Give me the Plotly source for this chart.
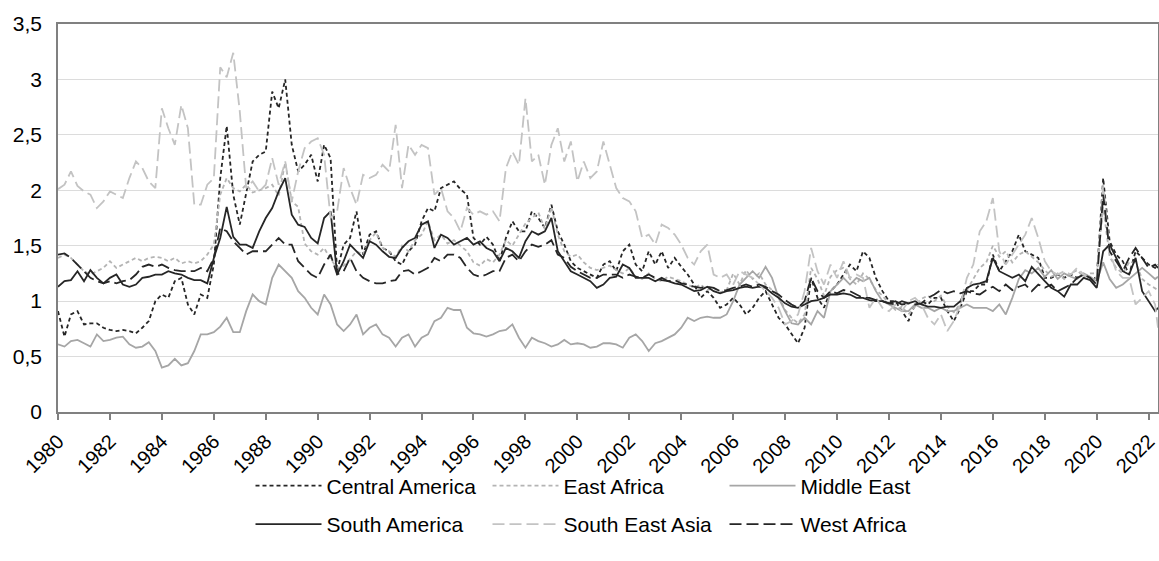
import pandas as pd
import plotly.graph_objects as go

# Quarterly observation dates, Jan 1980 .. Apr 2022, plus May 2022
dates = list(pd.date_range("1980-01-01", periods=170, freq="QS").strftime("%Y-%m-%d")) + ["2022-05-12"]

central_america = [
    0.91, 0.68, 0.88, 0.91,  # 1980
    0.79, 0.80, 0.80, 0.76,  # 1981
    0.74, 0.73, 0.74, 0.73,  # 1982
    0.71, 0.76, 0.82, 1.00,  # 1983
    1.06, 1.03, 1.18, 1.21,  # 1984
    0.97, 0.88, 1.06, 1.03,  # 1985
    1.33, 2.11, 2.58, 1.96,  # 1986
    1.69, 1.99, 2.26, 2.32,  # 1987
    2.35, 2.89, 2.74, 3.00,  # 1988
    2.41, 2.17, 2.23, 2.32,  # 1989
    2.08, 2.41, 2.29, 1.27,  # 1990
    1.51, 1.57, 1.81, 1.42,  # 1991
    1.60, 1.63, 1.48, 1.45,  # 1992
    1.36, 1.33, 1.45, 1.51,  # 1993
    1.72, 1.84, 1.81, 2.02,  # 1994
    2.05, 2.08, 2.01, 1.96,  # 1995
    1.57, 1.51, 1.58, 1.51,  # 1996
    1.36, 1.57, 1.72, 1.63,  # 1997
    1.63, 1.81, 1.75, 1.66,  # 1998
    1.87, 1.63, 1.51, 1.36,  # 1999
    1.30, 1.27, 1.24, 1.21,  # 2000
    1.33, 1.36, 1.27, 1.45,  # 2001
    1.51, 1.33, 1.27, 1.45,  # 2002
    1.33, 1.45, 1.30, 1.39,  # 2003
    1.31, 1.24, 1.15, 1.03,  # 2004
    1.09, 1.03, 0.94, 0.97,  # 2005
    1.03, 0.97, 0.88, 0.94,  # 2006
    1.03, 1.09, 0.97, 0.85,  # 2007
    0.79, 0.70, 0.62, 0.76,  # 2008
    1.21, 1.03, 0.94, 1.09,  # 2009
    1.15, 1.24, 1.33, 1.27,  # 2010
    1.45, 1.39, 1.21, 1.09,  # 2011
    1.00, 1.00, 0.91, 0.82,  # 2012
    0.97, 1.00, 0.97, 1.03,  # 2013
    1.03, 0.91, 0.82, 0.94,  # 2014
    1.09, 1.09, 1.15, 1.15,  # 2015
    1.42, 1.27, 1.36, 1.45,  # 2016
    1.60, 1.45, 1.42, 1.39,  # 2017
    1.21, 1.21, 1.24, 1.21,  # 2018
    1.24, 1.21, 1.24, 1.21,  # 2019
    1.21, 2.11, 1.54, 1.42,  # 2020
    1.36, 1.24, 1.45, 1.39,  # 2021
    1.33, 1.30, 1.33,        # 2022
]

east_africa = [
    1.39, 1.42, 1.39, 1.33,  # 1980
    1.27, 1.24, 1.27, 1.30,  # 1981
    1.36, 1.30, 1.33, 1.36,  # 1982
    1.39, 1.36, 1.39, 1.40,  # 1983
    1.39, 1.36, 1.39, 1.34,  # 1984
    1.36, 1.34, 1.36, 1.42,  # 1985
    1.51, 1.96, 2.11, 2.02,  # 1986
    1.99, 2.05, 1.98, 2.00,  # 1987
    2.02, 2.05, 1.95, 2.25,  # 1988
    1.90, 1.85, 1.52, 1.45,  # 1989
    1.42, 1.48, 1.38, 1.30,  # 1990
    1.32, 1.38, 1.45, 1.42,  # 1991
    1.55, 1.62, 1.48, 1.45,  # 1992
    1.40, 1.50, 1.45, 1.55,  # 1993
    1.60, 1.72, 1.55, 1.60,  # 1994
    1.52, 1.55, 1.50, 1.45,  # 1995
    1.35, 1.32, 1.38, 1.35,  # 1996
    1.42, 1.55, 1.50, 1.60,  # 1997
    1.70, 1.75, 1.80, 1.65,  # 1998
    1.85, 1.60, 1.45, 1.40,  # 1999
    1.42, 1.35, 1.30, 1.28,  # 2000
    1.30, 1.32, 1.28, 1.25,  # 2001
    1.30, 1.22, 1.20, 1.25,  # 2002
    1.20, 1.18, 1.22, 1.20,  # 2003
    1.18, 1.15, 1.12, 1.15,  # 2004
    1.10, 1.12, 1.08, 1.10,  # 2005
    1.25, 1.15, 1.28, 1.20,  # 2006
    1.25, 1.15, 1.10, 1.05,  # 2007
    0.92, 0.85, 0.80, 0.88,  # 2008
    1.30, 1.20, 1.05, 1.22,  # 2009
    1.28, 1.30, 1.20, 1.15,  # 2010
    1.25, 1.20, 1.10, 1.05,  # 2011
    0.98, 0.92, 0.95, 0.88,  # 2012
    0.95, 1.02, 1.05, 1.00,  # 2013
    1.05, 0.95, 0.90, 0.98,  # 2014
    1.10, 1.20, 1.30, 1.35,  # 2015
    1.50, 1.40, 1.45, 1.35,  # 2016
    1.42, 1.45, 1.40, 1.35,  # 2017
    1.28, 1.22, 1.25, 1.20,  # 2018
    1.25, 1.28, 1.22, 1.25,  # 2019
    1.25, 1.85, 1.40, 1.30,  # 2020
    1.25, 1.35, 1.35, 1.20,  # 2021
    1.15, 1.12, 1.10,        # 2022
]

middle_east = [
    0.61, 0.59, 0.64, 0.65,  # 1980
    0.62, 0.59, 0.70, 0.64,  # 1981
    0.65, 0.67, 0.68, 0.61,  # 1982
    0.58, 0.59, 0.63, 0.55,  # 1983
    0.40, 0.42, 0.48, 0.42,  # 1984
    0.44, 0.55, 0.70, 0.70,  # 1985
    0.72, 0.77, 0.85, 0.72,  # 1986
    0.72, 0.91, 1.06, 1.00,  # 1987
    0.97, 1.21, 1.33, 1.27,  # 1988
    1.21, 1.09, 1.03, 0.94,  # 1989
    0.88, 1.06, 0.97, 0.79,  # 1990
    0.73, 0.79, 0.88, 0.70,  # 1991
    0.76, 0.79, 0.70, 0.67,  # 1992
    0.59, 0.67, 0.70, 0.59,  # 1993
    0.67, 0.70, 0.82, 0.85,  # 1994
    0.94, 0.92, 0.92, 0.76,  # 1995
    0.71, 0.70, 0.68, 0.70,  # 1996
    0.73, 0.74, 0.79, 0.67,  # 1997
    0.58, 0.67, 0.64, 0.62,  # 1998
    0.59, 0.61, 0.65, 0.61,  # 1999
    0.62, 0.61, 0.58, 0.59,  # 2000
    0.62, 0.62, 0.61, 0.58,  # 2001
    0.67, 0.70, 0.64, 0.55,  # 2002
    0.62, 0.64, 0.67, 0.70,  # 2003
    0.76, 0.85, 0.82, 0.85,  # 2004
    0.86, 0.85, 0.85, 0.88,  # 2005
    1.00, 1.15, 1.21, 1.27,  # 2006
    1.21, 1.31, 1.21, 1.03,  # 2007
    0.91, 0.80, 0.79, 0.85,  # 2008
    0.79, 0.91, 0.85, 1.09,  # 2009
    1.15, 1.21, 1.15, 1.21,  # 2010
    1.18, 1.21, 1.09, 1.00,  # 2011
    0.97, 0.94, 0.91, 0.91,  # 2012
    0.97, 0.94, 0.94, 0.91,  # 2013
    0.94, 0.91, 0.91, 0.94,  # 2014
    0.97, 0.94, 0.94, 0.94,  # 2015
    0.91, 0.97, 0.88, 1.03,  # 2016
    1.20, 1.28, 1.25, 1.30,  # 2017
    1.22, 1.28, 1.20, 1.25,  # 2018
    1.22, 1.20, 1.25, 1.22,  # 2019
    1.18, 1.35, 1.20, 1.12,  # 2020
    1.15, 1.20, 1.25, 1.30,  # 2021
    1.25, 1.20, 1.22,        # 2022
]

south_america = [
    1.13, 1.18, 1.19, 1.27,  # 1980
    1.18, 1.28, 1.21, 1.16,  # 1981
    1.21, 1.24, 1.15, 1.13,  # 1982
    1.15, 1.21, 1.22, 1.24,  # 1983
    1.24, 1.27, 1.25, 1.24,  # 1984
    1.21, 1.19, 1.19, 1.16,  # 1985
    1.39, 1.57, 1.85, 1.58,  # 1986
    1.51, 1.51, 1.48, 1.63,  # 1987
    1.75, 1.84, 1.99, 2.11,  # 1988
    1.78, 1.69, 1.67, 1.57,  # 1989
    1.52, 1.75, 1.81, 1.24,  # 1990
    1.36, 1.51, 1.45, 1.39,  # 1991
    1.54, 1.51, 1.45, 1.40,  # 1992
    1.39, 1.48, 1.54, 1.57,  # 1993
    1.69, 1.72, 1.48, 1.60,  # 1994
    1.57, 1.51, 1.54, 1.57,  # 1995
    1.51, 1.54, 1.48, 1.45,  # 1996
    1.36, 1.48, 1.45, 1.39,  # 1997
    1.54, 1.63, 1.60, 1.63,  # 1998
    1.75, 1.45, 1.36, 1.27,  # 1999
    1.24, 1.21, 1.18, 1.12,  # 2000
    1.15, 1.21, 1.22, 1.33,  # 2001
    1.30, 1.21, 1.21, 1.21,  # 2002
    1.18, 1.21, 1.18, 1.16,  # 2003
    1.15, 1.12, 1.09, 1.10,  # 2004
    1.13, 1.09, 1.07, 1.09,  # 2005
    1.10, 1.12, 1.13, 1.12,  # 2006
    1.13, 1.12, 1.07, 1.03,  # 2007
    0.98, 0.95, 0.94, 0.97,  # 2008
    1.00, 1.01, 1.03, 1.06,  # 2009
    1.06, 1.07, 1.06, 1.03,  # 2010
    1.03, 1.01, 1.00, 1.00,  # 2011
    0.98, 1.00, 0.97, 0.98,  # 2012
    1.00, 0.97, 0.95, 0.95,  # 2013
    0.94, 0.95, 0.95, 1.00,  # 2014
    1.12, 1.15, 1.16, 1.18,  # 2015
    1.39, 1.27, 1.24, 1.21,  # 2016
    1.24, 1.18, 1.31, 1.24,  # 2017
    1.18, 1.12, 1.09, 1.04,  # 2018
    1.15, 1.15, 1.21, 1.19,  # 2019
    1.12, 1.45, 1.51, 1.39,  # 2020
    1.27, 1.24, 1.39, 1.09,  # 2021
    1.00, 0.91, 0.94,        # 2022
]

south_east_asia = [
    2.01, 2.05, 2.17, 2.04,  # 1980
    1.99, 1.96, 1.84, 1.90,  # 1981
    1.99, 1.96, 1.93, 2.11,  # 1982
    2.26, 2.20, 2.08, 2.02,  # 1983
    2.74, 2.56, 2.41, 2.77,  # 1984
    2.56, 1.87, 1.87, 2.05,  # 1985
    2.11, 3.11, 3.02, 3.24,  # 1986
    2.71, 2.02, 2.08, 1.99,  # 1987
    2.05, 2.29, 2.05, 2.26,  # 1988
    1.90, 2.17, 2.38, 2.44,  # 1989
    2.47, 2.32, 1.75, 1.81,  # 1990
    2.20, 2.02, 1.87, 2.14,  # 1991
    2.11, 2.14, 2.23, 2.17,  # 1992
    2.59, 2.02, 2.41, 2.32,  # 1993
    2.41, 2.38, 1.96, 2.02,  # 1994
    1.81, 1.75, 1.63, 1.84,  # 1995
    1.78, 1.81, 1.78, 1.81,  # 1996
    1.72, 2.20, 2.35, 2.23,  # 1997
    2.83, 2.26, 2.32, 2.05,  # 1998
    2.41, 2.56, 2.26, 2.44,  # 1999
    2.08, 2.26, 2.11, 2.17,  # 2000
    2.44, 2.23, 2.02, 1.93,  # 2001
    1.90, 1.81, 1.57, 1.60,  # 2002
    1.51, 1.69, 1.66, 1.60,  # 2003
    1.51, 1.39, 1.33, 1.45,  # 2004
    1.51, 1.24, 1.21, 1.24,  # 2005
    1.15, 1.27, 1.24, 1.21,  # 2006
    1.15, 1.09, 1.03, 0.94,  # 2007
    0.79, 0.82, 0.88, 1.09,  # 2008
    1.48, 1.27, 1.15, 1.33,  # 2009
    1.21, 1.36, 1.21, 1.24,  # 2010
    1.21, 0.94, 1.03, 0.94,  # 2011
    0.91, 0.97, 0.91, 1.00,  # 2012
    1.03, 0.97, 0.85, 0.79,  # 2013
    0.88, 0.73, 0.82, 0.97,  # 2014
    1.21, 1.33, 1.63, 1.72,  # 2015
    1.93, 1.45, 1.33, 1.42,  # 2016
    1.51, 1.60, 1.75, 1.57,  # 2017
    1.36, 1.27, 1.24, 1.27,  # 2018
    1.24, 1.30, 1.24, 1.21,  # 2019
    1.21, 2.05, 1.45, 1.27,  # 2020
    1.21, 1.21, 0.97, 1.03,  # 2021
    1.09, 0.97, 0.76,        # 2022
]

west_africa = [
    1.42, 1.43, 1.39, 1.33,  # 1980
    1.27, 1.21, 1.18, 1.16,  # 1981
    1.18, 1.16, 1.18, 1.19,  # 1982
    1.24, 1.31, 1.33, 1.31,  # 1983
    1.33, 1.30, 1.28, 1.27,  # 1984
    1.27, 1.27, 1.30, 1.27,  # 1985
    1.39, 1.66, 1.63, 1.54,  # 1986
    1.48, 1.42, 1.45, 1.45,  # 1987
    1.45, 1.51, 1.57, 1.51,  # 1988
    1.51, 1.36, 1.30, 1.24,  # 1989
    1.21, 1.33, 1.42, 1.24,  # 1990
    1.27, 1.39, 1.27, 1.21,  # 1991
    1.18, 1.16, 1.16, 1.18,  # 1992
    1.19, 1.27, 1.28, 1.24,  # 1993
    1.27, 1.30, 1.39, 1.36,  # 1994
    1.42, 1.42, 1.39, 1.30,  # 1995
    1.24, 1.22, 1.24, 1.27,  # 1996
    1.27, 1.39, 1.42, 1.36,  # 1997
    1.45, 1.51, 1.49, 1.51,  # 1998
    1.55, 1.42, 1.39, 1.31,  # 1999
    1.27, 1.24, 1.21, 1.21,  # 2000
    1.24, 1.24, 1.24, 1.21,  # 2001
    1.24, 1.22, 1.21, 1.24,  # 2002
    1.21, 1.19, 1.18, 1.19,  # 2003
    1.16, 1.15, 1.13, 1.12,  # 2004
    1.13, 1.12, 1.09, 1.10,  # 2005
    1.12, 1.13, 1.15, 1.13,  # 2006
    1.15, 1.13, 1.09, 1.06,  # 2007
    1.01, 0.97, 0.94, 1.00,  # 2008
    1.21, 1.09, 1.03, 1.09,  # 2009
    1.07, 1.10, 1.09, 1.06,  # 2010
    1.03, 1.03, 1.01, 1.00,  # 2011
    0.98, 0.97, 1.00, 0.98,  # 2012
    0.97, 0.98, 1.03, 1.06,  # 2013
    1.10, 1.07, 1.09, 1.07,  # 2014
    1.09, 1.07, 1.06, 1.10,  # 2015
    1.13, 1.09, 1.15, 1.10,  # 2016
    1.13, 1.15, 1.09, 1.15,  # 2017
    1.12, 1.15, 1.09, 1.12,  # 2018
    1.15, 1.21, 1.24, 1.21,  # 2019
    1.15, 1.96, 1.45, 1.36,  # 2020
    1.27, 1.39, 1.48, 1.39,  # 2021
    1.30, 1.33, 1.30,        # 2022
]

tick_years = [str(y) for y in range(1980, 2023, 2)]
y_ticks = [0, 0.5, 1, 1.5, 2, 2.5, 3, 3.5]

series = [
    ("Central America", central_america, "#262626", "4px,3px", "legend"),
    ("East Africa", east_africa, "#b4b4b4", "4px,3px", "legend"),
    ("Middle East", middle_east, "#a6a6a6", "solid", "legend"),
    ("South America", south_america, "#262626", "solid", "legend2"),
    ("South East Asia", south_east_asia, "#c3c3c3", "12px,5px", "legend2"),
    ("West Africa", west_africa, "#262626", "12px,5px", "legend2"),
]

fig = go.Figure()
for name, vals, color, dash, lg in series:
    assert len(vals) == len(dates), (name, len(vals))
    fig.add_trace(go.Scatter(
        x=dates, y=vals, name=name, mode="lines",
        line=dict(color=color, width=1.8, dash=dash),
        legend=lg,
    ))

font = "Liberation Sans, Arial, sans-serif"
legend_common = dict(
    orientation="h", xanchor="left", yanchor="middle",
    font=dict(family=font, size=21, color="#000000"),
    itemwidth=66, entrywidth=156, entrywidthmode="pixels",
    bgcolor="rgba(0,0,0,0)", borderwidth=0, tracegroupgap=0,
)

fig.update_layout(
    width=1159, height=561,
    margin=dict(l=58, r=1, t=24, b=149, autoexpand=False),
    paper_bgcolor="white", plot_bgcolor="white",
    separators=",.",
    font=dict(family=font, size=21, color="#000000"),
    xaxis=dict(
        type="date", automargin=False,
        range=["1980-01-01", "2022-05-12"],
        tickvals=[f"{y}-01-01" for y in tick_years],
        ticktext=tick_years,
        tickangle=-45, ticklabelstandoff=2,
        ticklabeloverflow="allow",
        ticks="outside", ticklen=6, tickcolor="#808080", tickwidth=1.5,
        showgrid=False, showline=True, linecolor="#808080", linewidth=1.5,
        mirror=True, zeroline=False,
        tickfont=dict(family=font, size=20, color="#000000"),
    ),
    yaxis=dict(
        range=[0, 3.5], tickvals=y_ticks, automargin=False,
        ticklabelstandoff=10,
        showgrid=True, gridcolor="#dcdcdc", gridwidth=1,
        showline=True, linecolor="#808080", linewidth=1.5, mirror=True,
        zeroline=False, ticks="",
        tickfont=dict(family=font, size=21, color="#000000"),
    ),
    legend=dict(x=0.175, y=-0.1907, **legend_common),
    legend2=dict(x=0.175, y=-0.29, **legend_common),
    showlegend=True,
)

fig.write_html(
    "out.html",
    config={"displayModeBar": False},
    post_script="document.body.style.margin='0px';document.body.style.overflow='hidden';",
)
